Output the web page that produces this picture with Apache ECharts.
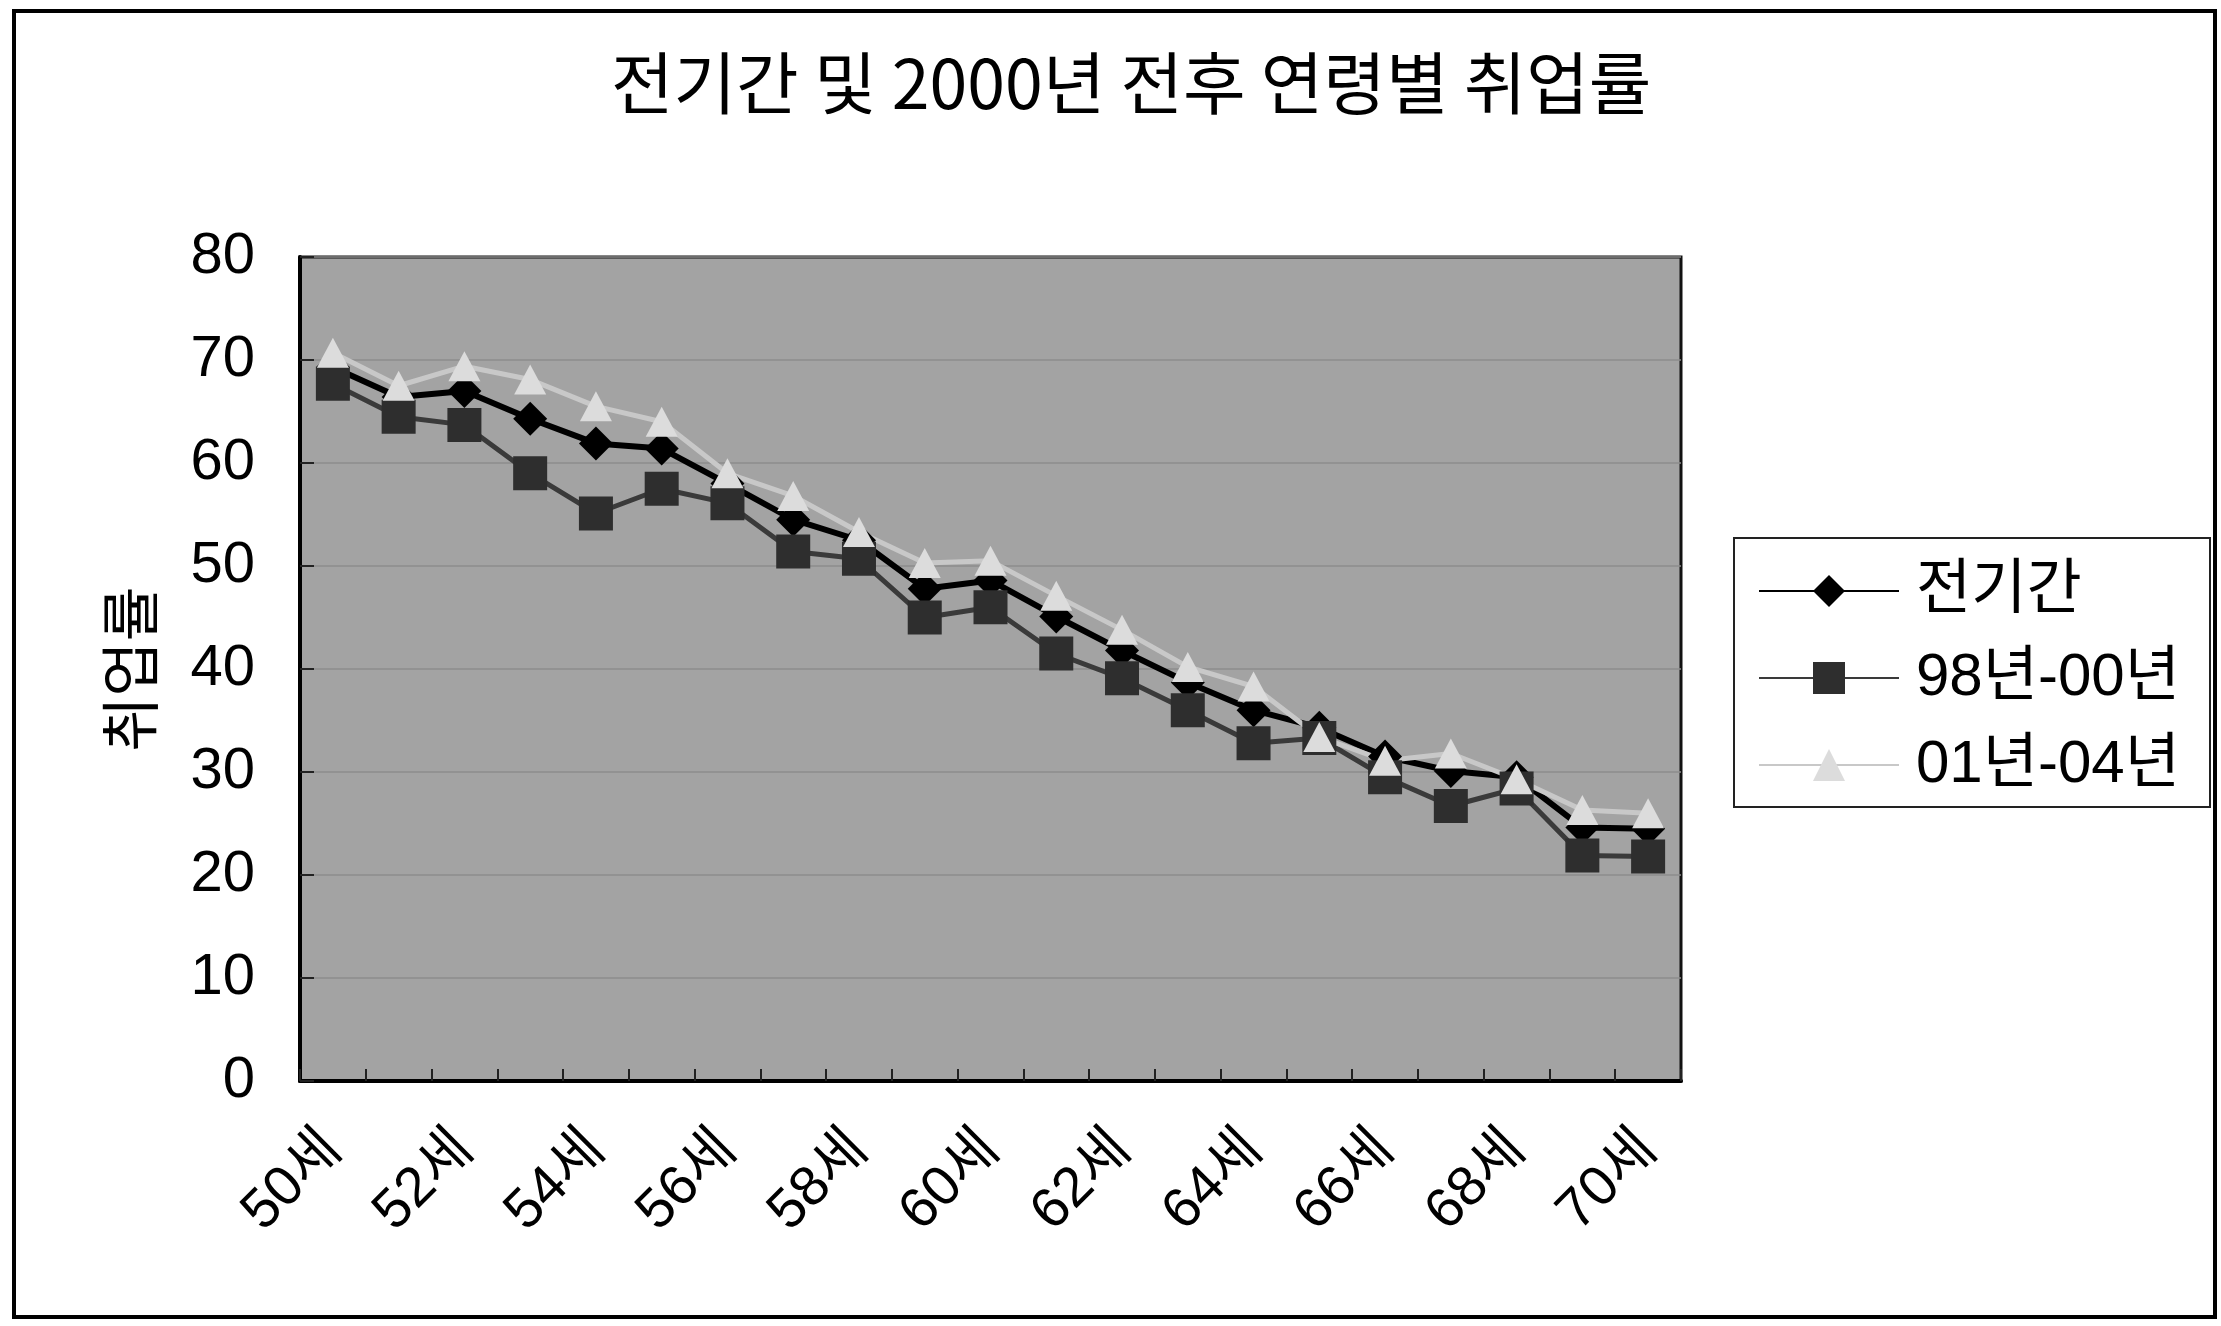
<!DOCTYPE html>
<html>
<head>
<meta charset="utf-8">
<title>전기간 및 2000년 전후 연령별 취업률</title>
<script src="https://cdn.jsdelivr.net/npm/echarts/dist/echarts.min.js"></script>
<style>
    html, body { margin: 0; padding: 0; background: #fff; }
    #container { width: 2221px; height: 1326px; }
</style>
</head>
<body>
<div id="container"></div>
<script>
    // 연령 (x축)
    var ages = ['50세', '51세', '52세', '53세', '54세', '55세', '56세', '57세', '58세', '59세', '60세',
        '61세', '62세', '63세', '64세', '65세', '66세', '67세', '68세', '69세', '70세']
    var seriesNames = ['전기간', '98년-00년', '01년-04년']
    // 값은 그림에서 읽은 추정치
    var allPeriod = [69.3, 66.4, 67.0, 64.3, 61.9, 61.4, 58.0, 54.5, 52.5, 47.8, 48.6,
        45.1, 41.8, 38.7, 36.0, 34.3, 31.5, 30.1, 29.5, 24.6, 24.5]
    var y9800 = [67.7, 64.5, 63.7, 59.0, 55.1, 57.5, 56.1, 51.4, 50.7, 45.0, 46.0,
        41.5, 39.1, 36.0, 32.8, 33.3, 29.5, 26.7, 28.4, 21.9, 21.8]
    var y0104 = [70.7, 67.5, 69.4, 68.1, 65.5, 64.0, 59.0, 56.8, 53.3, 50.3, 50.5,
        47.1, 43.8, 40.2, 38.3, 33.4, 31.1, 31.8, 29.3, 26.3, 26.0]
    var yMin = 0, yMax = 80, yStep = 10

    var latin = 'Liberation Sans, Noto Sans CJK KR, sans-serif'
    var hangul = 'Noto Sans CJK KR, sans-serif'

    window.onload = function(){
        var dom = document.getElementById('container')
        var myChart = echarts.init(dom)
        var option = {
            backgroundColor: '#fff',
            animation: false,
            title: {
                text: '전기간 및 2000년 전후 연령별 취업률',
                left: 606,
                top: 44,
                textStyle: {
                    fontFamily: hangul,
                    fontSize: 68,
                    fontWeight: 'normal',
                    color: '#000'
                }
            },
            legend: {
                data: seriesNames,
                orient: 'vertical',
                left: 1758,
                top: 561,
                padding: 0,
                itemWidth: 140,
                itemHeight: 40,
                itemGap: 27,
                textStyle: {
                    fontFamily: latin,
                    fontSize: 60,
                    lineHeight: 60,
                    color: '#000',
                    padding: [0, 0, 0, 12]
                }
            },
            grid: {
                left: 300,
                top: 257,
                right: 540,
                bottom: 245,
                show: true,
                backgroundColor: '#a3a3a3',
                borderColor: '#111',
                borderWidth: 3
            },
            xAxis: {
                type: 'category',
                data: ages,
                boundaryGap: true,
                axisLine: { lineStyle: { color: '#000', width: 4 } },
                axisTick: {
                    show: true,
                    inside: true,
                    interval: 0,
                    length: 12,
                    lineStyle: { color: '#222', width: 2 }
                },
                axisLabel: {
                    interval: 1,
                    rotate: 45,
                    margin: 60,
                    fontFamily: latin,
                    fontSize: 56,
                    color: '#000'
                },
                splitLine: { show: false }
            },
            yAxis: {
                type: 'value',
                min: yMin,
                max: yMax,
                interval: yStep,
                name: '취업률',
                nameLocation: 'middle',
                nameRotate: 90,
                nameGap: 140,
                nameTextStyle: {
                    fontFamily: hangul,
                    fontSize: 60,
                    color: '#000'
                },
                axisLine: { show: true, lineStyle: { color: '#000', width: 4 } },
                axisTick: {
                    show: true,
                    inside: true,
                    length: 14,
                    lineStyle: { color: '#222', width: 2 }
                },
                axisLabel: {
                    margin: 45,
                    fontFamily: latin,
                    fontSize: 58,
                    color: '#000'
                },
                splitLine: { show: true, lineStyle: { color: '#8c8c8c', width: 1.5 } }
            },
            series: [{
                name: seriesNames[0],
                type: 'line',
                data: allPeriod,
                symbol: 'diamond',
                symbolSize: 34,
                itemStyle: { color: '#000' },
                lineStyle: { color: '#000', width: 6 }
            },{
                name: seriesNames[1],
                type: 'line',
                data: y9800,
                symbol: 'rect',
                symbolSize: 34,
                itemStyle: { color: '#2e2e2e' },
                lineStyle: { color: '#3a3a3a', width: 5 }
            },{
                name: seriesNames[2],
                type: 'line',
                data: y0104,
                symbol: 'triangle',
                symbolSize: [32, 30],
                itemStyle: { color: '#dcdcdc' },
                lineStyle: { color: '#c8c8c8', width: 5 }
            }],
            graphic: [{
                type: 'rect',
                shape: { x: 14, y: 11, width: 2201, height: 1306 },
                style: { fill: 'none', stroke: '#000', lineWidth: 4 },
                silent: true
            },{
                type: 'rect',
                shape: { x: 1734, y: 538, width: 476, height: 269 },
                style: { fill: 'none', stroke: '#222', lineWidth: 2 },
                silent: true
            }]
        }
        if (option && typeof option === 'object') {
            myChart.setOption(option, true)
        }
    }
</script>
</body>
</html>
